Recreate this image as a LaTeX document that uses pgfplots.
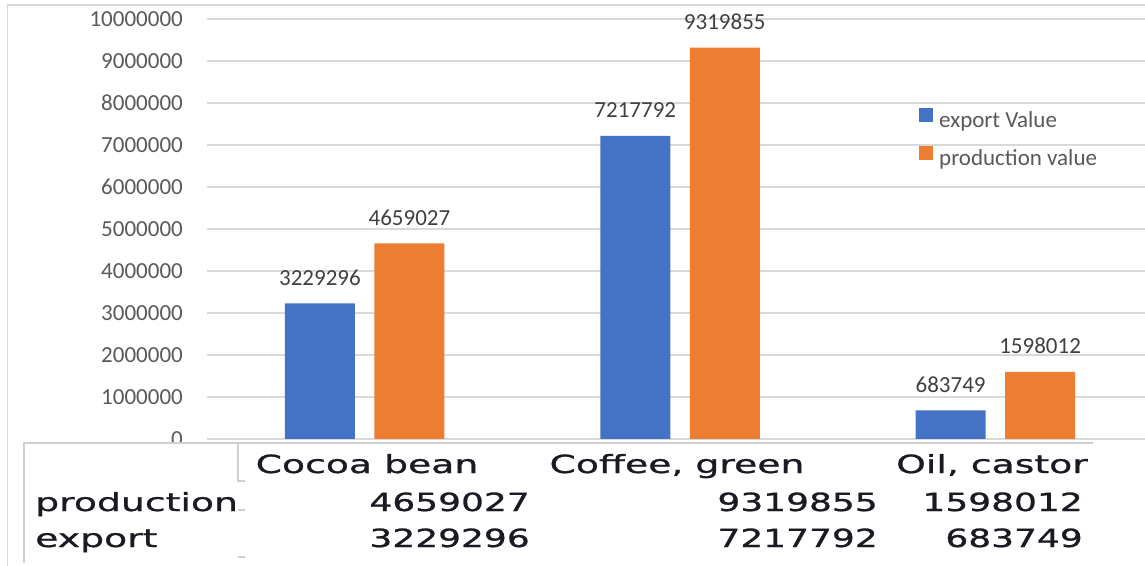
\documentclass[border=0pt]{standalone}
\usepackage{pgfplots}
\pgfplotsset{compat=1.18}
\usepackage{pgfplotstable}
\usepackage{fontspec}
\setmainfont{Carlito}
\newfontfamily\tabnumfont[FakeStretch=1.44, FakeBold=1]{DejaVu Sans}
\newfontfamily\tabwordfont[FakeStretch=1.51, FakeBold=1]{DejaVu Sans}

\definecolor{expblue}{HTML}{4472C4}
\definecolor{prodorange}{HTML}{ED7D31}
\definecolor{gridgrey}{HTML}{D9D9D9}
\definecolor{tablegrey}{HTML}{D0D0D0}
\definecolor{ticktext}{HTML}{595959}
\definecolor{labeltext}{HTML}{404040}
\definecolor{tabtext}{HTML}{1A1A22}

% export and production values per commodity (0 = Cocoa bean, 1 = Coffee, green, 2 = Oil, castor)
\pgfplotstableread{
x y lab
0 3229296 3229296
1 7217792 7217792
2 683749 683749
}\exportdata
\pgfplotstableread{
x y lab
0 4659027 4659027
1 9319855 9319855
2 1598012 1598012
}\productiondata

\newcommand{\chartfont}{\fontsize{23}{27}\selectfont}
\newcommand{\tnum}{\tabnumfont\fontsize{25}{30}\selectfont}
\newcommand{\tword}{\tabwordfont\fontsize{25}{30}\selectfont}

\begin{document}
\begin{tikzpicture}[x=1pt,y=1pt]
\useasboundingbox (0,0) rectangle (1145,565);
\begin{scope}
\clip (0,0) rectangle (1145,565);
% chart frame
\draw[gridgrey, line width=1.5pt] (7.5,-5) -- (7.5,560) -- (1160,560);

\begin{axis}[
  at={(207pt,126pt)}, anchor=south west,
  scale only axis, width=946pt, height=420pt,
  xmin=-0.5, xmax=2.5, ymin=0, ymax=10000000,
  axis line style={draw=none},
  xtick=\empty,
  ytick={0,1000000,2000000,3000000,4000000,5000000,6000000,7000000,8000000,9000000,10000000},
  scaled y ticks=false,
  ymajorgrids,
  grid style={gridgrey, line width=1.5pt},
  major tick length=0pt,
  yticklabel style={/pgf/number format/fixed, /pgf/number format/1000 sep={},
    /pgf/number format/assume math mode=true,
    font=\chartfont, text=ticktext, inner sep=0pt, anchor=east, xshift=-24pt},
  clip=false,
  legend image code/.code={\fill[#1] (0pt,0pt) rectangle (14pt,14pt);},
  legend style={
    at={(0.75264,0.78810)}, anchor=north west,
    draw=none, fill=none, inner sep=0pt,
    font=\chartfont, text=ticktext,
    nodes={inner sep=0pt, text height=16pt, text depth=5pt},
    column sep=6pt, row sep=13pt,
  },
  legend cell align=left,
]
\addplot[ybar, bar width=70pt, bar shift=-44.75pt, fill=expblue, draw=none,
  point meta=explicit symbolic, nodes near coords,
  nodes near coords style={font=\chartfont, text=labeltext, anchor=base, inner sep=0pt,
    xshift=-44.75pt, yshift=18pt}]
  table[x=x, y=y, meta=lab] {\exportdata};
\addlegendentry{export Value}
\addplot[ybar, bar width=70pt, bar shift=44.75pt, fill=prodorange, draw=none,
  point meta=explicit symbolic, nodes near coords,
  nodes near coords style={font=\chartfont, text=labeltext, anchor=base, inner sep=0pt,
    xshift=44.75pt, yshift=18pt}]
  table[x=x, y=y, meta=lab] {\productiondata};
\addlegendentry{production value}
\end{axis}

% data table under the chart
\fill[white] (24,-5) rectangle (1160,122);
\draw[tablegrey, line width=1.2pt] (24,2) -- (24,122) -- (1093,122);
\draw[tablegrey, line width=1.2pt] (238,122) -- (238,84) -- (245,84);
\draw[tablegrey, line width=1.2pt] (238,55) -- (245,55);
\draw[tablegrey, line width=1.2pt] (238,8) -- (245,8);

\begin{scope}[every node/.style={inner sep=0pt, text=tabtext}]
\node[anchor=base, font=\tword] at (367,92) {Cocoa bean};
\node[anchor=base, font=\tword] at (677,92) {Coffee, green};
\node[anchor=base, font=\tword] at (992,92) {Oil, castor};
\node[anchor=base west, font=\tword] at (35,54) {production};
\node[anchor=base east, font=\tnum] at (530,54) {4659027};
\node[anchor=base east, font=\tnum] at (878,54) {9319855};
\node[anchor=base east, font=\tnum] at (1083,54) {1598012};
\node[anchor=base west, font=\tword] at (35,18) {export};
\node[anchor=base east, font=\tnum] at (530,18) {3229296};
\node[anchor=base east, font=\tnum] at (878,18) {7217792};
\node[anchor=base east, font=\tnum] at (1083,18) {683749};
\end{scope}
\end{scope}
\end{tikzpicture}
\end{document}
